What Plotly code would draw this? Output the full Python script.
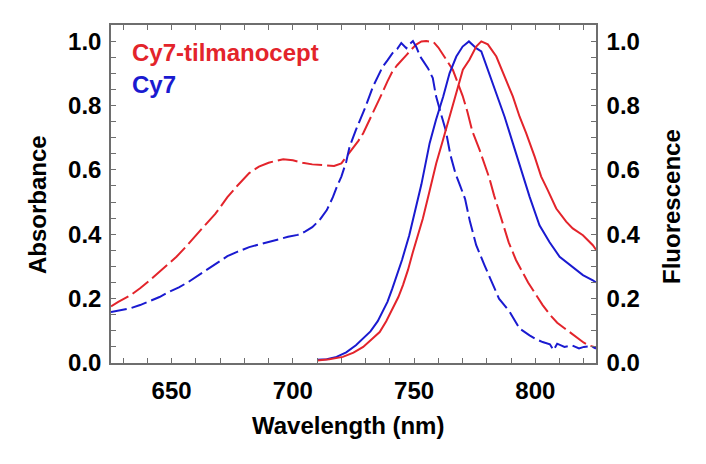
import plotly.graph_objects as go

RED = "#e3242b"
BLUE = "#1a1ad0"

# Absorbance, Cy7-tilmanocept (dashed red)
abs_tilm_wl = [625, 628, 633, 637, 641, 646, 652, 656, 660, 664, 668, 673, 677, 682, 686, 690, 693, 696, 700,
               704, 708, 711, 714, 717, 720, 722, 724, 727, 729, 732, 734, 736, 739, 741, 743, 745, 747, 749,
               751, 753, 755, 758, 760, 762, 764, 766, 768, 770, 772, 774, 777, 779, 781, 783, 786, 789, 792,
               794, 797, 800, 803, 806, 809, 812, 814, 817, 820, 822, 825]
abs_tilm_val = [0.176, 0.19, 0.21, 0.232, 0.257, 0.29, 0.33, 0.362, 0.397, 0.43, 0.463, 0.515, 0.55, 0.59, 0.61,
                0.622, 0.628, 0.633, 0.63, 0.622, 0.617, 0.615, 0.613, 0.612, 0.62, 0.64, 0.662, 0.69, 0.714,
                0.76, 0.795, 0.825, 0.875, 0.905, 0.925, 0.943, 0.958, 0.975, 0.99, 0.999, 1.0, 0.997, 0.98,
                0.957, 0.935, 0.91, 0.87, 0.83, 0.78, 0.72, 0.662, 0.62, 0.575, 0.52, 0.45, 0.375, 0.32, 0.29,
                0.25, 0.215, 0.18, 0.15, 0.125, 0.108, 0.097, 0.08, 0.063, 0.055, 0.048]

# Absorbance, Cy7 (dashed blue)
abs_cy7_wl = [625, 628, 631, 633, 637, 641, 645, 649, 653, 657, 661, 665, 669, 673, 677, 682, 686, 690, 694, 698,
              702, 705, 708, 711, 714, 716.5, 718, 720, 722, 723.4, 726, 728, 730, 733, 735, 737, 739, 741, 743,
              744.7, 746.8, 748, 749.5, 751, 752.5, 755.7, 757.7, 759, 761, 763, 765, 767, 769, 771, 773, 775.6,
              779, 782, 785, 789.4, 793.5, 797.6, 800, 803, 806, 807.5, 809, 812, 815, 818, 820, 823, 825]
abs_cy7_val = [0.158, 0.162, 0.165, 0.17, 0.18, 0.192, 0.205, 0.221, 0.235, 0.252, 0.272, 0.292, 0.31, 0.332,
               0.345, 0.36, 0.368, 0.376, 0.385, 0.392, 0.398, 0.408, 0.422, 0.444, 0.475, 0.515, 0.545, 0.579,
               0.625, 0.672, 0.724, 0.76, 0.797, 0.858, 0.89, 0.92, 0.94, 0.962, 0.975, 0.994, 0.978, 0.99, 1.0,
               0.98, 0.952, 0.916, 0.885, 0.83, 0.776, 0.724, 0.645, 0.59, 0.55, 0.51, 0.44, 0.366, 0.304, 0.252,
               0.2, 0.159, 0.107, 0.086, 0.075, 0.065, 0.058, 0.04, 0.06, 0.05, 0.055, 0.045, 0.05, 0.052, 0.045]

# Fluorescence, Cy7 (solid blue)
fl_cy7_wl = [710, 714, 718, 722, 726, 729, 732, 735, 737, 739, 741, 743, 745, 748, 751, 753, 756.4, 759, 762,
             764.6, 767.4, 770, 772.6, 775.6, 777.7, 780.4, 784, 787.3, 790.7, 794.2, 797.6, 801.7, 805.8, 810,
             815.4, 819.6, 823.7, 825]
fl_cy7_val = [0.01, 0.012, 0.019, 0.033, 0.055, 0.075, 0.098, 0.13, 0.159, 0.19, 0.231, 0.275, 0.32, 0.397, 0.49,
              0.555, 0.683, 0.755, 0.828, 0.9, 0.952, 0.983, 0.999, 0.978, 0.968, 0.911, 0.838, 0.765, 0.683, 0.6,
              0.517, 0.428, 0.376, 0.33, 0.299, 0.273, 0.257, 0.25]

# Fluorescence, Cy7-tilmanocept (solid red)
fl_tilm_wl = [710, 715, 720.6, 725, 729, 732, 735.8, 738.5, 741.2, 743.5, 745.4, 747.5, 749.5, 751.5, 753.6,
              756.4, 759.1, 761.9, 764.6, 767.4, 770.1, 772.8, 775.6, 777.7, 780.4, 783.9, 787.3, 790.7, 793.5,
              796.2, 799.7, 802.4, 805.1, 808.6, 812.7, 815.4, 819.6, 823.7, 825]
fl_tilm_val = [0.008, 0.012, 0.019, 0.032, 0.05, 0.07, 0.096, 0.13, 0.169, 0.205, 0.242, 0.29, 0.345, 0.395,
               0.449, 0.535, 0.62, 0.693, 0.765, 0.838, 0.911, 0.942, 0.983, 0.999, 0.99, 0.952, 0.89, 0.828,
               0.765, 0.714, 0.641, 0.579, 0.537, 0.48, 0.439, 0.418, 0.397, 0.366, 0.352]

x_ticks = [650, 700, 750, 800]
y_ticks = [0.0, 0.2, 0.4, 0.6, 0.8, 1.0]
y_tick_labels = ["0.0", "0.2", "0.4", "0.6", "0.8", "1.0"]

FONT = "Liberation Sans, Arial, sans-serif"
FS = 24
AX = "#6e6e6e"

# the page body has an 8px margin, so the figure is drawn 8px right/down
OFF = 8
W, H = 706 - OFF, 464 - OFF
ML, MR, MT, MB = 111 - OFF, 110, 25 - OFF, 101

fig = go.Figure()
fig.add_trace(go.Scatter(x=abs_tilm_wl, y=abs_tilm_val, mode="lines",
                         line=dict(color=RED, width=2, dash="20px,5px"), yaxis="y"))
fig.add_trace(go.Scatter(x=abs_cy7_wl, y=abs_cy7_val, mode="lines",
                         line=dict(color=BLUE, width=2, dash="16px,5px"), yaxis="y"))
fig.add_trace(go.Scatter(x=fl_cy7_wl, y=fl_cy7_val, mode="lines",
                         line=dict(color=BLUE, width=2), yaxis="y2"))
fig.add_trace(go.Scatter(x=fl_tilm_wl, y=fl_tilm_val, mode="lines",
                         line=dict(color=RED, width=2), yaxis="y2"))

tickfont = dict(family=FONT, size=FS, color="black", weight="bold")

common_y = dict(range=[0, 1.05], tickvals=y_ticks, ticktext=y_tick_labels, ticks="inside", ticklen=5,
                tickcolor=AX, tickwidth=1.2, showline=True, linecolor=AX, linewidth=1.5, showgrid=False,
                zeroline=False, tickfont=tickfont,
                minor=dict(dtick=0.05, ticks="inside", ticklen=5, tickcolor=AX, tickwidth=1.2, showgrid=False))

fig.update_layout(
    width=W, height=H,
    margin=dict(l=ML, r=MR, t=MT, b=MB),
    paper_bgcolor="white", plot_bgcolor="white",
    showlegend=False,
    xaxis=dict(range=[625, 825], tickvals=x_ticks, ticks="inside", ticklen=5, tickcolor=AX, tickwidth=1.2,
               showline=True, linecolor=AX, linewidth=1.5, mirror="ticks", showgrid=False, zeroline=False,
               tickfont=tickfont, ticklabelstandoff=5,
               minor=dict(dtick=10, ticks="inside", ticklen=5, tickcolor=AX, tickwidth=1.2, showgrid=False)),
    yaxis=dict(side="left", ticklabelstandoff=3, **common_y),
    yaxis2=dict(side="right", overlaying="y", ticklabelstandoff=4, **common_y),
    annotations=[
        dict(text="Cy7-tilmanocept", x=130, y=53, xref="paper", yref="paper", showarrow=False,
             font=dict(family=FONT, size=FS, color=RED, weight="bold"), xanchor="left", yanchor="middle"),
        dict(text="Cy7", x=130, y=84, xref="paper", yref="paper", showarrow=False,
             font=dict(family=FONT, size=FS, color=BLUE, weight="bold"), xanchor="left", yanchor="middle"),
        dict(text="Wavelength (nm)", x=348, y=425, xref="paper", yref="paper", showarrow=False,
             font=dict(family=FONT, size=FS, color="black", weight="bold"), xanchor="center", yanchor="middle"),
        dict(text="Absorbance", x=37, y=205, xref="paper", yref="paper", showarrow=False, textangle=-90,
             font=dict(family=FONT, size=FS, color="black", weight="bold"), xanchor="center", yanchor="middle"),
        dict(text="Fluorescence", x=671, y=207, xref="paper", yref="paper", showarrow=False, textangle=-90,
             font=dict(family=FONT, size=FS, color="black", weight="bold"), xanchor="center", yanchor="middle"),
    ],
)

# convert annotation page-pixel positions into paper coordinates
pw, ph = W - ML - MR, H - MT - MB
for a in fig.layout.annotations:
    a.x = (a.x - OFF - ML) / pw
    a.y = (H - MB - (a.y - OFF)) / ph

fig.write_html("out.html")
